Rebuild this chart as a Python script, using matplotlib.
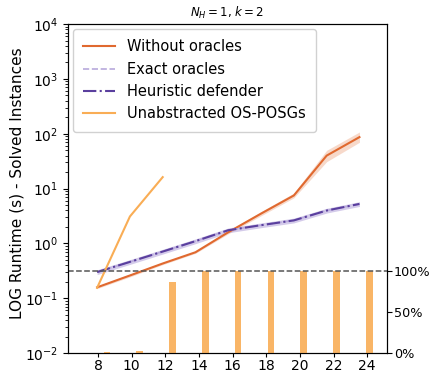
import matplotlib.pyplot as plt
import numpy as np

# number of nodes / instance size
sizes = [8, 10, 12, 14, 16, 18, 20, 22, 24]
tick_labels = [8, 10, 12, 14, 16, 18, 20, 22, 24]

# runtimes (s)
without_oracles = [0.158, 0.26, 0.43, 0.69, 1.6, 3.5, 7.5, 40.0, 87.0]
without_lo = [0.150, 0.245, 0.41, 0.66, 1.5, 3.2, 6.8, 31.0, 70.0]
without_hi = [0.166, 0.275, 0.45, 0.72, 1.7, 3.8, 8.3, 50.0, 108.0]

heuristic = [0.30, 0.46, 0.71, 1.10, 1.74, 2.15, 2.63, 3.98, 5.25]
exact_oracles = [0.30, 0.46, 0.71, 1.10, 1.74, 2.15, 2.63, 3.98, 5.25]

unabs_sizes = [8, 10, 12]
unabstracted = [0.155, 3.1, 16.2]

# share of solved instances (Unabstracted OS-POSGs)
solved = [0.01, 0.03, 0.87, 1.0, 1.0, 1.0, 1.0, 1.0, 1.0]

c_without = '#e0692f'
c_unabs = '#f9ad55'
c_heur = '#5a3f9e'
c_exact = '#b8a9dc'

fig, ax = plt.subplots(figsize=(4.3, 3.72), dpi=100)
fig.subplots_adjust(left=0.158, right=0.9, top=0.935, bottom=0.051)

ax.fill_between(sizes, without_lo, without_hi, color=c_without, alpha=0.25, lw=0)
ax.fill_between(sizes, np.array(heuristic) * 0.9, np.array(heuristic) * 1.1,
                color=c_exact, alpha=0.6, lw=0)
ax.plot(sizes, without_oracles, color=c_without, lw=1.5, label='Without oracles')
ax.plot(sizes, exact_oracles, color=c_exact, lw=1.2, ls='--', label='Exact oracles')
ax.plot(sizes, heuristic, color=c_heur, lw=1.5, ls='-.', label='Heuristic defender')
ax.plot(unabs_sizes, unabstracted, color=c_unabs, lw=1.5, label='Unabstracted OS-POSGs')

ax.set_yscale('log')
ax.set_ylim(1e-2, 1e4)
ax.set_xlim(6.22, 25.68)
ax.set_xticks([8.06 + (t - 8) * 1.0255 for t in tick_labels])
ax.set_xticklabels([str(t) for t in tick_labels])
ax.tick_params(labelsize=10)
ax.tick_params(axis='x', pad=1.5, length=3)
ax.set_ylabel('LOG Runtime (s) - Solved Instances', fontsize=11.1)
ax.yaxis.set_label_coords(-0.135, 0.515)
ax.set_title('$N_H = 1$, $k = 2$', fontsize=8.5, pad=5)
ax.legend(loc='upper left', fontsize=10.5, handlelength=2.2, borderpad=0.7,
          borderaxespad=0.35, framealpha=0.9)

ax2 = ax.twinx()
ax2.bar([s + 0.6 for s in sizes], solved, width=0.4, color=c_unabs, alpha=0.9)
ax2.axhline(1.0, color='#555555', ls='--', lw=1.1)
ax2.set_ylim(0, 4.01)
ax2.set_yticks([0, 0.5, 1.0])
ax2.set_yticklabels(['0%', '50%', '100%'])
ax2.tick_params(labelsize=9.2, pad=1.5)

fig.savefig('out.png')
